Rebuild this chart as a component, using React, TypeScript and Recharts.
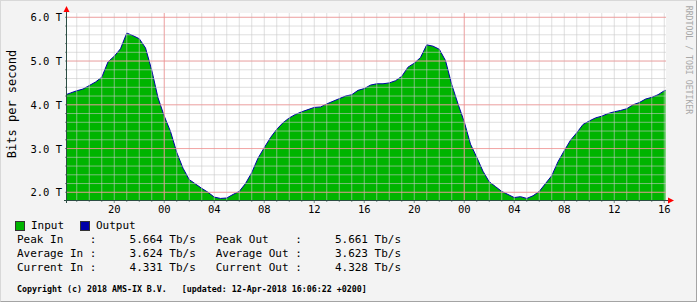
import React from 'react';
import { AreaChart, Area, Line, XAxis, YAxis, ReferenceLine } from 'recharts';

// time axis in hours, counted from midnight of the first day shown
const hours = [16.22, ...Array.from({ length: 96 }, (_, i) => 16.5 + i * 0.5), 64.1];

// Tb/s, every half hour
const inputTbps = [
  4.24,
  4.27, 4.32, 4.36, 4.44, 4.52, 4.63, 4.98, 5.11, // 16:30 - 20:00
  5.28, 5.64, 5.58, 5.51, 5.30, 4.79, 4.16, 3.74, // 20:30 - 00:00
  3.39, 2.91, 2.55, 2.29, 2.19, 2.09, 2.00, 1.89, // 00:30 - 04:00
  1.86, 1.87, 1.95, 2.02, 2.20, 2.45, 2.78, 3.02, // 04:30 - 08:00
  3.25, 3.44, 3.59, 3.70, 3.78, 3.84, 3.89, 3.94, // 08:30 - 12:00
  3.95, 4.02, 4.08, 4.14, 4.20, 4.23, 4.33, 4.37, // 12:30 - 16:00
  4.45, 4.48, 4.48, 4.50, 4.55, 4.65, 4.86, 4.95, // 16:30 - 20:00
  5.08, 5.37, 5.34, 5.27, 5.01, 4.46, 4.02, 3.61, // 20:30 - 00:00
  3.10, 2.80, 2.48, 2.24, 2.13, 2.02, 1.95, 1.88, // 00:30 - 04:00
  1.90, 1.86, 1.92, 2.02, 2.20, 2.38, 2.70, 2.95, // 04:30 - 08:00
  3.19, 3.36, 3.55, 3.63, 3.70, 3.74, 3.80, 3.84, // 08:30 - 12:00
  3.87, 3.91, 4.00, 4.05, 4.13, 4.17, 4.23, 4.32, // 12:30 - 16:00
  4.33,
];
// the output trace lies right on the input edge in the picture
const outputTbps = inputTbps;

const hourTicks = Array.from({ length: 48 }, (_, i) => 17 + i);
const midnights = [24, 48];
const valueTicks = Array.from({ length: 21 }, (_, i) => Math.round((2 + i * 0.2) * 10) / 10);
const majorValues = [2, 3, 4, 5, 6];

const legendRows = [
  'Peak In    :     5.664 Tb/s   Peak Out    :     5.661 Tb/s',
  'Average In :     3.624 Tb/s   Average Out :     3.623 Tb/s',
  'Current In :     4.331 Tb/s   Current Out :     4.328 Tb/s',
];
const footer = 'Copyright (c) 2018 AMS-IX B.V.   [updated: 12-Apr-2018 16:06:22 +0200]';

const mono = '"DejaVu Sans Mono", "Liberation Mono", monospace';
const axisColor = '#2c4d43';
const gridColor = '#c8c8c8';
const mgridColor = '#ff8080';
const PLOT_BOTTOM = 200;
const PLOT_LEFT = 67;

const HourTick = (props: any) => {
  const { x, payload } = props;
  const h = payload.value;
  const labeled = h % 4 === 0;
  return (
    <g>
      <line x1={x} x2={x} y1={PLOT_BOTTOM} y2={PLOT_BOTTOM + (labeled ? 3 : 2)} stroke={axisColor} strokeOpacity={0.6} />
      {labeled && (
        <text x={x} y={209} textAnchor='middle' dominantBaseline='central' fontFamily={mono} fontSize={10.5} fill='#000'>
          {String(h % 24).padStart(2, '0')}
        </text>
      )}
    </g>
  );
};

const ValueTick = (props: any) => {
  const { y, payload } = props;
  const v = payload.value;
  const major = Math.abs(v - Math.round(v)) < 1e-6;
  return (
    <g>
      <line x1={PLOT_LEFT - 2} x2={PLOT_LEFT} y1={y} y2={y} stroke={axisColor} strokeOpacity={0.6} />
      {major && (
        <text x={62} y={y} textAnchor='end' dominantBaseline='central' fontFamily={mono} fontSize={10.5} fill='#000'>
          {v.toFixed(1) + ' T'}
        </text>
      )}
    </g>
  );
};

const legendText = { position: 'absolute' as const, fontSize: 11, lineHeight: '14px', whiteSpace: 'pre' as const };

export default function App() {
  const data = hours.map((t, i) => ({ t, input: inputTbps[i], output: outputTbps[i] }));
  return (
    <div style={{ position: 'absolute', left: 0, top: 0, width: 697, height: 302, background: '#f3f3f3', fontFamily: mono, overflow: 'hidden' }}>
      <div style={{ position: 'absolute', left: PLOT_LEFT, top: 13, width: 599, height: 187, background: '#fff' }} />
      <div style={{ position: 'absolute', left: 0, top: 0 }}>
        <AreaChart width={697} height={302} data={data} margin={{ top: 13, right: 31, bottom: 82, left: 0 }}>
          <XAxis
            dataKey='t'
            type='number'
            domain={[16.22, 64.14]}
            allowDataOverflow
            ticks={hourTicks}
            interval={0}
            height={20}
            axisLine={false}
            tickLine={false}
            tick={<HourTick />}
          />
          <YAxis
            type='number'
            domain={[1.824, 6.098]}
            allowDataOverflow
            ticks={valueTicks}
            interval={0}
            width={PLOT_LEFT}
            axisLine={false}
            tickLine={false}
            tick={<ValueTick />}
          />
          <Area type='linear' dataKey='input' fill='#00b400' fillOpacity={1} stroke='none' isAnimationActive={false} />
          <Line type='linear' dataKey='output' stroke='#0000a8' strokeWidth={1} dot={false} isAnimationActive={false} />
          {hourTicks.map((h) => (
            <ReferenceLine key={'gx' + h} x={h} stroke={gridColor} strokeOpacity={0.6} />
          ))}
          {valueTicks.map((v) => (
            <ReferenceLine key={'gy' + v} y={v} stroke={gridColor} strokeOpacity={0.6} />
          ))}
          {majorValues.map((v) => (
            <ReferenceLine key={'my' + v} y={v} stroke={mgridColor} strokeOpacity={0.6} />
          ))}
          {midnights.map((v) => (
            <ReferenceLine key={'mx' + v} x={v} stroke={mgridColor} strokeOpacity={0.6} />
          ))}
        </AreaChart>
      </div>
      <svg width={697} height={302} style={{ position: 'absolute', left: 0, top: 0, pointerEvents: 'none' }}>
        <line x1={PLOT_LEFT - 0.5} x2={PLOT_LEFT - 0.5} y1={PLOT_BOTTOM + 3} y2={11} stroke={axisColor} />
        <line x1={PLOT_LEFT - 3} x2={670} y1={PLOT_BOTTOM + 0.5} y2={PLOT_BOTTOM + 0.5} stroke={axisColor} />
        <polygon points={`${PLOT_LEFT - 3.5},12 ${PLOT_LEFT + 2.5},12 ${PLOT_LEFT - 0.5},6`} fill='#ff0000' />
        <polygon points={`668,197.5 668,203.5 674,200.5`} fill='#ff0000' />
        <text transform='rotate(-90 12 104)' x={12} y={104} textAnchor='middle' dominantBaseline='central' fontFamily={mono} fontSize={12} fill='#000'>
          Bits per second
        </text>
        <text transform='rotate(90 689 60)' x={689} y={60} textAnchor='middle' dominantBaseline='central' fontFamily={mono} fontSize={8.2} fill='#a8a8a8'>
          RRDTOOL / TOBI OETIKER
        </text>
        <rect x={15.5} y={221.5} width={9} height={9} fill='#00b400' stroke='#333' />
        <rect x={80.5} y={221.5} width={9} height={9} fill='#0000a8' stroke='#333' />
      </svg>
      <div style={{ ...legendText, left: 31, top: 219 }}>Input</div>
      <div style={{ ...legendText, left: 96, top: 219 }}>Output</div>
      {legendRows.map((row, i) => (
        <div key={i} style={{ ...legendText, left: 17, top: 233 + i * 14 }}>
          {row}
        </div>
      ))}
      <div style={{ position: 'absolute', left: 17, top: 282, fontSize: 8.3, lineHeight: '14px', whiteSpace: 'pre', fontWeight: 'bold' }}>{footer}</div>
      <div style={{ position: 'absolute', inset: 0, borderTop: '1px solid #d8d8d8', borderLeft: '1px solid #d8d8d8', borderRight: '1px solid #a4a4a4', borderBottom: '1px solid #a4a4a4', pointerEvents: 'none' }} />
    </div>
  );
}
